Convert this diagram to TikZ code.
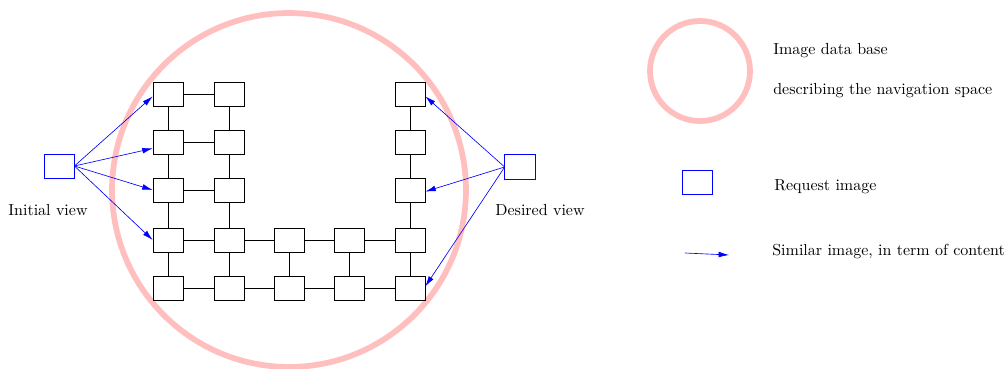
\documentclass[tikz,border=0pt]{standalone}
\usetikzlibrary{arrows.meta}
\begin{document}
\begin{tikzpicture}[x=0.625pt,y=-0.625pt,
  cell/.style={draw=black,minimum width=18.75pt,minimum height=15pt,inner sep=0pt},
  req/.style={draw=blue,line width=0.5pt,minimum width=18.75pt,minimum height=15pt,inner sep=0pt},
  box/.style={minimum width=18.75pt,minimum height=15pt,inner sep=0pt},
  link/.style={draw=black},
  sim/.style={draw=blue,-{Latex[length=6.5pt,width=3.6pt]}},
  base/.style={draw=red!25,line width=3.6pt},
  lbl/.style={inner sep=0pt,font=\normalsize}]
\useasboundingbox (0,0) rectangle (1007,369);
% data base circle
\draw[base] (289,190) circle [radius=110.6pt];
% grid
\foreach \c/\x in {1/168,2/229,3/289,4/349,5/410}{
  \foreach \r/\y in {1/94,2/142,3/190,4/240,5/288}{
    \coordinate (p\c\r) at (\x,\y);
  }
}
\foreach \c in {1,2,5}{\foreach \r in {1,2,3,4,5}{\node[cell] (b\c\r) at (p\c\r) {};}}
\foreach \c in {3,4}{\foreach \r in {4,5}{\node[cell] (b\c\r) at (p\c\r) {};}}
% vertical links
\foreach \c in {1,2,5}{
  \draw[link] (b\c1) -- (b\c2);
  \draw[link] (b\c2) -- (b\c3);
  \draw[link] (b\c3) -- (b\c4);
  \draw[link] (b\c4) -- (b\c5);
}
\draw[link] (b34) -- (b35);
\draw[link] (b44) -- (b45);
% horizontal links
\foreach \r in {1,2,3}{\draw[link] (b1\r) -- (b2\r);}
\foreach \r in {4,5}{
  \draw[link] (b1\r) -- (b2\r);
  \draw[link] (b2\r) -- (b3\r);
  \draw[link] (b3\r) -- (b4\r);
  \draw[link] (b4\r) -- (b5\r);
}
% request images
\node[req] (initv) at (59,166) {};
\node[box] (destv) at (520,167) {};
\draw[blue,line width=0.5pt] (destv.south west) rectangle (destv.north east);
\node[lbl] (initl) at (48,210) {Initial view};
\node[lbl] (destl) at (540,210) {Desired view};
\draw[sim] (initv.east) -- ([yshift=-1.5pt]b11.west);
\draw[sim] (initv.east) -- ([yshift=-4pt]b12.west);
\draw[sim] (initv.east) -- (b13.west);
\draw[sim] (initv.east) -- (b14.west);
\draw[sim] (destv.west) -- ([yshift=-1.5pt]b51.east);
\draw[sim] (destv.west) -- ([yshift=-1pt]b53.east);
\draw[sim] (destv.west) -- ([yshift=1pt]b55.east);
% legend
\draw[base] (700,71) circle [radius=31.25pt];
\node[lbl,anchor=west] (l1) at (773,51) {Image data base};
\node[lbl,anchor=west] (l2) at (773,91) {describing the navigation space};
\node[req] (lreq) at (697,182) {};
\node[lbl,anchor=west] (l3) at (774,187) {Request image};
\coordinate (la) at (685,253);
\coordinate (lb) at (729,255);
\draw[sim] (la) -- (lb);
\node[lbl,anchor=west] (l4) at (772,252) {Similar image, in term of content};
\end{tikzpicture}
\end{document}
